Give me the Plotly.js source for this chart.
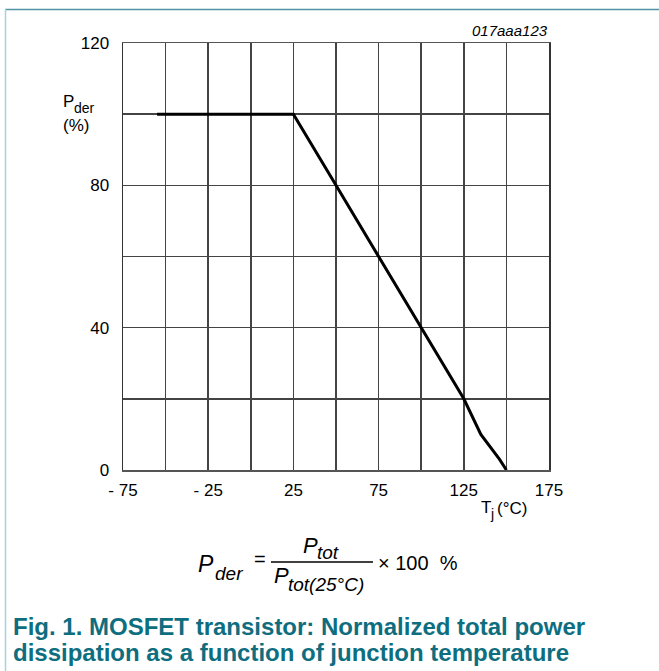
<!DOCTYPE html>
<html>
<head>
<meta charset="utf-8">
<script src="https://cdn.plot.ly/plotly-3.0.1.min.js"></script>
<style>
html,body{margin:0;padding:0;background:#fff;}
#chart{width:659px;height:671px;}
</style>
</head>
<body>
<div id="chart"></div>
<script>
// Data
const tempC = [-55, 25, 50, 75, 100, 125, 135, 146, 150];
const pderPct = [100, 100, 80, 60, 40, 20, 10, 3, 0];

const xTickVals = [-75, -50, -25, 0, 25, 50, 75, 100, 125, 150, 175];
const xTickText = ["- 75", "", "- 25", "", "25", "", "75", "", "125", "", "175"];
const yTickVals = [0, 20, 40, 60, 80, 100, 120];
const yTickText = ["0", "", "40", "", "80", "", "120"];

const W = 659, H = 671;
const L = 123, R = 549, T = 43, B = 470;
const px = v => (v - L) / (R - L);
const py = v => (B - v) / (B - T);

const FONT = "Liberation Sans, Arial, sans-serif";
const TEAL = "#0e6e80";

const trace = {
  x: tempC, y: pderPct, type: "scatter", mode: "lines",
  line: {color: "#000", width: 3},
  hoverinfo: "skip"
};

function ann(text, x, y, size, opts) {
  return Object.assign({
    text: text, xref: "paper", yref: "paper", x: px(x), y: py(y),
    showarrow: false, xanchor: "left", yanchor: "middle", borderpad: 0,
    font: {family: FONT, size: size, color: "#000"}
  }, opts || {});
}

const annotations = [
  ann("<i>017aaa123</i>", 549, 31, 15, {xanchor: "right"}),
  // y axis title
  ann("P", 62, 101, 17),
  ann("der", 73, 108, 14),
  ann("(%)", 62, 125, 17),
  // x axis title
  ann("T", 480, 507, 17),
  ann("j", 489, 514, 14),
  ann("(°C)", 496, 508, 17),
  // formula
  ann("<i>P</i>", 197, 564, 23),
  ann("<i>der</i>", 214, 573, 19),
  ann("=", 253, 559, 20),
  ann("<i>P</i>", 302, 545, 22),
  ann("<i>tot</i>", 316, 552, 19),
  ann("<i>P</i>", 273, 575, 22),
  ann("<i>tot(25°C)</i>", 287, 584, 19),
  ann("× 100  %", 377, 563, 20),
  // caption
  ann("<b>Fig. 1. MOSFET transistor: Normalized total power</b>", 12, 626, 24, {font: {family: FONT, size: 24, color: TEAL}}),
  ann("<b>dissipation as a function of junction temperature</b>", 12, 652, 24, {font: {family: FONT, size: 24, color: TEAL}})
];

const shapes = [
  {type: "line", xref: "paper", yref: "paper", x0: px(271), x1: px(373), y0: py(562), y1: py(562), line: {color: "#000", width: 1.5}},
  {type: "line", xref: "paper", yref: "paper", x0: px(5), x1: px(659), y0: py(9.5), y1: py(9.5), line: {color: "#4f93a4", width: 1.5}},
  {type: "line", xref: "paper", yref: "paper", x0: px(5.5), x1: px(5.5), y0: py(9), y1: py(671), line: {color: "#a9d1dd", width: 1.5}}
];

const layout = {
  width: W, height: H,
  margin: {l: L, r: W - R, t: T, b: H - B, pad: 0},
  paper_bgcolor: "#fff", plot_bgcolor: "#fff",
  showlegend: false,
  xaxis: {
    range: [-75, 175], tickmode: "array", tickvals: xTickVals, ticktext: xTickText,
    showgrid: true, gridcolor: "#444", gridwidth: 1.5, zeroline: false,
    showline: true, linecolor: "#555", linewidth: 1.5, mirror: true,
    ticks: "", ticklabelstandoff: 4,
    tickfont: {family: FONT, size: 17, color: "#000"}, fixedrange: true
  },
  yaxis: {
    range: [0, 120], tickmode: "array", tickvals: yTickVals, ticktext: yTickText,
    showgrid: true, gridcolor: "#444", gridwidth: 1.5, zeroline: false,
    showline: true, linecolor: "#333", linewidth: 1.5, mirror: true,
    ticks: "", ticklabelstandoff: 9,
    tickfont: {family: FONT, size: 17, color: "#000"}, fixedrange: true
  },
  annotations: annotations,
  shapes: shapes
};

Plotly.newPlot("chart", [trace], layout, {displayModeBar: false, staticPlot: true});
</script>
</body>
</html>
